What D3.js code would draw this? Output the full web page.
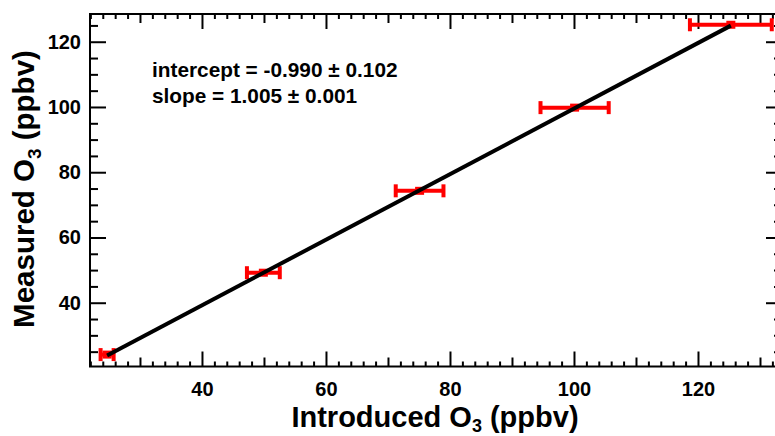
<!DOCTYPE html>
<html>
<head>
<meta charset="utf-8">
<script src="https://cdn.jsdelivr.net/npm/d3@7"></script>
<style>
  html, body { margin: 0; padding: 0; background: #fff; overflow: hidden; }
  svg { display: block; font-family: Arial, "Liberation Sans", sans-serif; font-weight: bold; }
  .tick text { font-size: 20px; fill: #000; }
</style>
</head>
<body>
<svg id="chart" width="775" height="436"></svg>
<script>
// data
const introduced = [24.7, 49.9, 75.1, 100.1, 125.3];
const measured   = [24.1, 49.2, 74.3, 99.8, 125.2];
const introErr   = [1.05, 2.65, 3.85, 5.5, 6.6];

const fitIntercept = -0.990;
const fitSlope = 1.005;
const fitText = ["intercept = -0.990 \u00B1 0.102", "slope = 1.005 \u00B1 0.001"];

const xMajor = [40, 60, 80, 100, 120];
const yMajor = [40, 60, 80, 100, 120];

const margin = {left: 90, top: 14, right: 782, bottom: 366.5};
const red = "#ff0000";

const svg = d3.select("#chart");

const x = d3.scaleLinear().domain([21.94, 133.55]).range([margin.left, margin.right]);
const y = d3.scaleLinear().domain([20.45, 128.5]).range([margin.bottom, margin.top]);

const xMinor = d3.range(22, 134, 2).filter(v => v % 10 !== 0);
const xMid = d3.range(30, 134, 10).filter(v => v % 20 !== 0);
const yMinor = d3.range(25, 129, 5).filter(v => v % 20 !== 0);

// tick helper: ticks always point into the plot
function ticks(axisFn, scale, values, len, pos, labels, pad) {
    const ax = axisFn(scale).tickValues(values).tickSize(-len).tickPadding(pad || 0);
    if (!labels) ax.tickFormat("");
    const g = svg.append("g").attr("transform", pos).call(ax);
    g.select(".domain").remove();
    g.selectAll(".tick line").attr("stroke", "#000").attr("stroke-width", 2);
    return g;
}

const posBottom = `translate(0,${margin.bottom})`;
const posTop = `translate(0,${margin.top})`;
const posLeft = `translate(${margin.left},0)`;
const posRight = `translate(${margin.right},0)`;

ticks(d3.axisBottom, x, xMinor, 5, posBottom);
ticks(d3.axisBottom, x, xMid, 9, posBottom);
ticks(d3.axisBottom, x, xMajor, 15, posBottom, true, 15);
ticks(d3.axisTop, x, xMinor, 5, posTop);
ticks(d3.axisTop, x, xMid, 9, posTop);
ticks(d3.axisTop, x, xMajor, 15, posTop);

ticks(d3.axisLeft, y, yMinor, 8, posLeft);
ticks(d3.axisLeft, y, yMajor, 16, posLeft, true, 9);
ticks(d3.axisRight, y, yMinor, 8, posRight);
ticks(d3.axisRight, y, yMajor, 16, posRight);

svg.selectAll(".tick text").attr("font-size", 20).attr("font-weight", "bold");

// frame
svg.append("rect")
    .attr("x", margin.left).attr("y", margin.top)
    .attr("width", margin.right - margin.left)
    .attr("height", margin.bottom - margin.top)
    .attr("fill", "none").attr("stroke", "#000").attr("stroke-width", 2);

const pts = introduced.map((v, i) => ({x: v, y: measured[i], e: introErr[i]}));

// error bars
const eb = svg.append("g").attr("stroke", red).attr("stroke-width", 4);
eb.selectAll(".bar").data(pts).join("line")
    .attr("x1", d => x(d.x - d.e)).attr("x2", d => x(d.x + d.e))
    .attr("y1", d => y(d.y)).attr("y2", d => y(d.y));
eb.selectAll(".capl").data(pts).join("line")
    .attr("x1", d => x(d.x - d.e)).attr("x2", d => x(d.x - d.e))
    .attr("y1", d => y(d.y) - 6.5).attr("y2", d => y(d.y) + 6.5);
eb.selectAll(".capr").data(pts).join("line")
    .attr("x1", d => x(d.x + d.e)).attr("x2", d => x(d.x + d.e))
    .attr("y1", d => y(d.y) - 6.5).attr("y2", d => y(d.y) + 6.5);
svg.append("g").selectAll("rect").data(pts).join("rect")
    .attr("x", d => x(d.x) - 4.5).attr("y", d => y(d.y) - 4)
    .attr("width", 9).attr("height", 8).attr("fill", red);

// fit line over the data range
const ext = d3.extent(introduced);
svg.append("path")
    .datum(ext.map(v => [v, fitIntercept + fitSlope * v]))
    .attr("d", d3.line().x(d => x(d[0])).y(d => y(d[1])))
    .attr("stroke", "#000").attr("stroke-width", 4).attr("fill", "none");

// annotation
svg.append("g").selectAll("text").data(fitText).join("text")
    .attr("x", 152).attr("y", (d, i) => 77 + i * 25.7)
    .attr("font-size", 20.8).text(d => d);

// axis titles
const xt = svg.append("text")
    .attr("x", 435).attr("y", 427)
    .attr("text-anchor", "middle").attr("font-size", 29);
xt.append("tspan").text("Introduced O");
xt.append("tspan").attr("font-size", 18).attr("dy", 4.5).text("3");
xt.append("tspan").attr("dy", -4.5).text(" (ppbv)");

const yt = svg.append("text")
    .attr("transform", "translate(34,189) rotate(-90)")
    .attr("text-anchor", "middle").attr("font-size", 29.5);
yt.append("tspan").text("Measured O");
yt.append("tspan").attr("font-size", 19).attr("dy", 7).text("3");
yt.append("tspan").attr("dy", -7).text(" (ppbv)");
</script>
</body>
</html>
